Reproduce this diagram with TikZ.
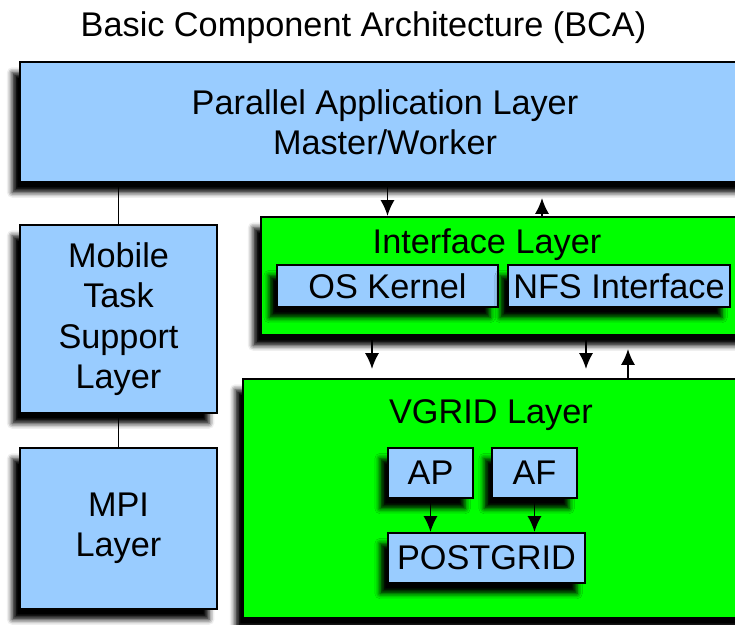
\documentclass[tikz,border=0pt]{standalone}
\usepackage{fontspec}
\setmainfont{Liberation Sans}
\usetikzlibrary{arrows.meta,shadows.blur}
\definecolor{bluefill}{RGB}{153,204,255}
\definecolor{greenfill}{RGB}{0,255,0}
\tikzstyle{box} = [rectangle, draw=black, line width=1.2pt, inner sep=0pt, align=center,
blur shadow={shadow xshift=-4.5pt, shadow yshift=-6pt, shadow blur radius=3pt, shadow opacity=100}]
\tikzstyle{bluebox} = [box, fill=bluefill]
\tikzstyle{greenbox} = [box, fill=greenfill]
\tikzstyle{arrow} = [line width=1pt, -{Latex[length=9pt,width=8pt]}]
\tikzstyle{link} = [line width=1pt]

\begin{document}
\begin{tikzpicture}[x=0.02cm, y=-0.02cm, font=\fontsize{19.5}{23}\selectfont]
	\useasboundingbox (0,0) rectangle (735,625);
	\clip (0,0) rectangle (735,625);
	\node (title) at (363.5,28) {Basic Component Architecture (BCA)};
	% top layer
	\node at (385,122) [bluebox, minimum width=14.6cm, minimum height=2.4cm] (pal) {Parallel Application Layer\\Master/Worker};
	% left column
	\node at (118.5,319) [bluebox, minimum width=3.94cm, minimum height=3.76cm] (mts) {Mobile\\Task\\Support\\Layer};
	\node at (118.5,528.5) [bluebox, minimum width=3.94cm, minimum height=3.22cm] (mpi) {MPI\\Layer};
	% interface layer
	\node at (505.5,276) [greenbox, minimum width=9.78cm, minimum height=2.36cm] (ifl) {};
	\node at (487,245) (ifltext) {Interface Layer};
	\node at (387.5,286) [bluebox, minimum width=4.42cm, minimum height=0.84cm] (osk) {OS Kernel};
	\node at (619,286) [bluebox, minimum width=4.44cm, minimum height=0.84cm] (nfs) {NFS Interface};
	% vgrid layer
	\node at (496.5,498.5) [greenbox, minimum width=10.14cm, minimum height=4.78cm] (vgl) {};
	\node at (491,415) (vgltext) {VGRID Layer};
	\node at (430.5,473) [bluebox, minimum width=1.7cm, minimum height=1cm] (ap) {AP};
	\node at (534.5,473) [bluebox, minimum width=1.7cm, minimum height=1cm] (af) {AF};
	\node at (486.5,558) [bluebox, minimum width=3.94cm, minimum height=1cm] (pg) {POSTGRID};
	% connections
	\coordinate (up1) at (542,0);
	\coordinate (dn1) at (372,0);
	\coordinate (dn2) at (586,0);
	\coordinate (up2) at (628,0);
	\draw [link] (pal.south -| mts) -- (mts.north);
	\draw [link] (mts.south) -- (mpi.north);
	\draw [arrow] (pal.south -| osk) -- (ifl.north -| osk);
	\draw [arrow, shorten >=0.3cm] (ifl.north -| up1) -- (pal.south -| up1);
	\draw [arrow, shorten >=0.18cm] (ifl.south -| dn1) -- (vgl.north -| dn1);
	\draw [arrow, shorten >=0.18cm] (ifl.south -| dn2) -- (vgl.north -| dn2);
	\draw [arrow, shorten >=0.26cm] (vgl.north -| up2) -- (ifl.south -| up2);
	\draw [arrow] (ap.south) -- (pg.north -| ap);
	\draw [arrow] (af.south) -- (pg.north -| af);
\end{tikzpicture}
\end{document}
